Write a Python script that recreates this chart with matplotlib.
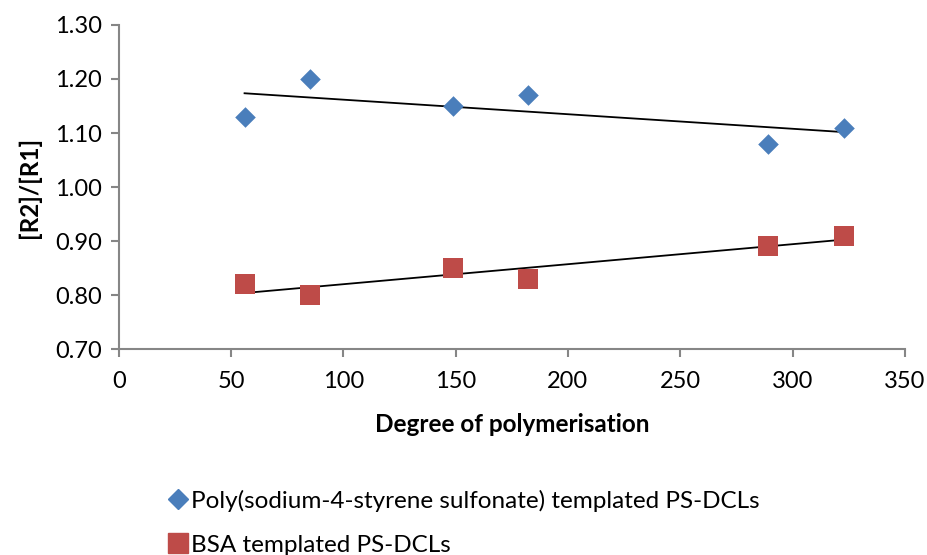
import numpy as np
import matplotlib
matplotlib.use("Agg")
import matplotlib.pyplot as plt
from matplotlib.lines import Line2D

plt.rcParams['font.family'] = ['Lato', 'DejaVu Sans']

dp = [56, 85, 149, 182, 289, 323]
pss = [1.13, 1.20, 1.15, 1.17, 1.08, 1.11]
bsa = [0.82, 0.80, 0.85, 0.83, 0.89, 0.91]
x_ticks = [0, 50, 100, 150, 200, 250, 300, 350]
y_ticks = [0.70, 0.80, 0.90, 1.00, 1.10, 1.20, 1.30]
labels = ["Poly(sodium-4-styrene sulfonate) templated PS-DCLs", "BSA templated PS-DCLs"]

blue = '#4a7ebb'
red = '#be4b48'
gray = '#868686'

fig = plt.figure(figsize=(9.28, 5.55), dpi=100)
ax = fig.add_axes([0.128, 0.371, 0.847, 0.584])

ax.scatter(dp, pss, marker='D', s=110, color=blue, zorder=3, linewidths=0)
ax.scatter(dp, bsa, marker='s', s=200, color=red, zorder=3, linewidths=0)

xa = np.array(dp, dtype=float)
for ys in (pss, bsa):
    k, b = np.polyfit(xa, ys, 1)
    xs = np.array([min(dp), max(dp)], dtype=float)
    ax.plot(xs, k * xs + b, color='black', lw=1.3, zorder=2)

ax.set_xlim(0, 350)
ax.set_ylim(0.70, 1.30)
ax.set_xticks(x_ticks)
ax.set_yticks(y_ticks)
ax.set_yticklabels([f"{v:.2f}" for v in y_ticks])
for s in ('top', 'right'):
    ax.spines[s].set_visible(False)
for s in ('left', 'bottom'):
    ax.spines[s].set_color(gray)
    ax.spines[s].set_linewidth(1.5)
ax.tick_params(colors=gray, labelcolor='black', labelsize=17, length=6, width=1.5, direction='out')
ax.tick_params(axis='x', pad=10)
ax.tick_params(axis='y', pad=6)

ax.set_xlabel("Degree of polymerisation", fontsize=17.5, fontweight='bold', labelpad=15)
ax.set_ylabel("[R2]/[R1]", fontsize=17.5, fontweight='bold', labelpad=10)

handles = [
    Line2D([], [], marker='D', color=blue, linestyle='none', markersize=10),
    Line2D([], [], marker='s', color=red, linestyle='none', markersize=15),
]
fig.legend(handles, labels, loc='upper left', bbox_to_anchor=(0.17, 0.135), frameon=False,
           fontsize=17.5, handletextpad=0.05, labelspacing=0.95, handlelength=0.9, borderaxespad=0)

fig.savefig("out.png", dpi=100)
